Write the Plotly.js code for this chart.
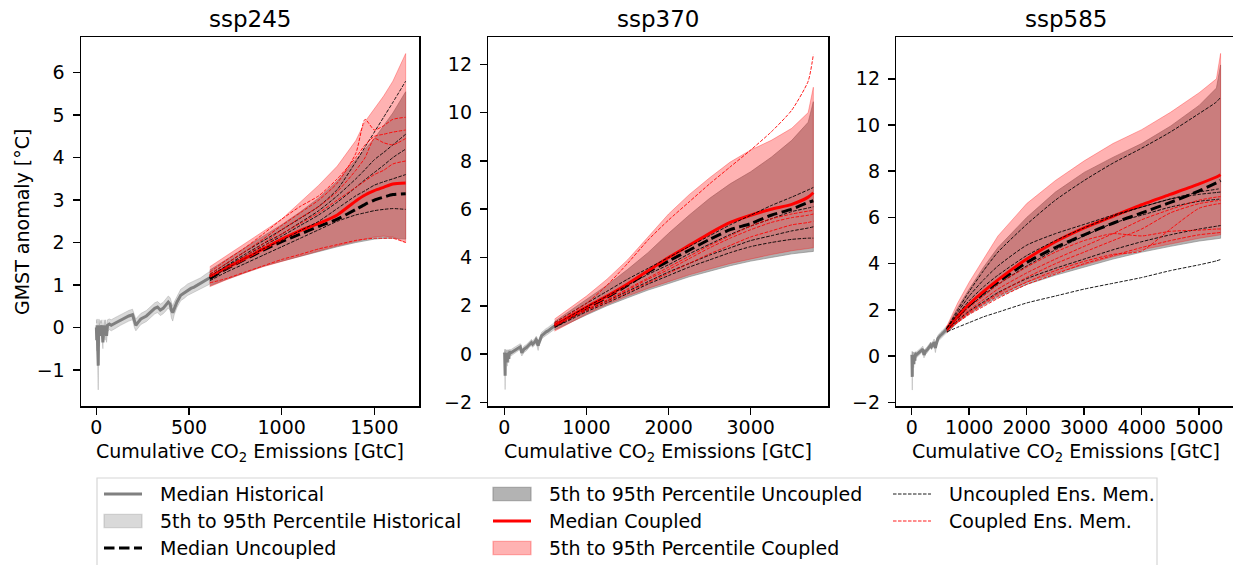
<!DOCTYPE html>
<html>
<head>
<meta charset="utf-8">
<script src="https://cdn.plot.ly/plotly-3.0.1.min.js"></script>
<style>
  html, body { margin: 0; padding: 0; background: #ffffff; }
  #chart { width: 1233px; height: 565px; }
</style>
</head>
<body>
<div id="chart"></div>
<script>
// ---- Historical period (shared by all scenarios) ----
// cumulative CO2 emissions [GtC]
const histX = [0, 2, 4, 6, 8, 10, 12, 14, 17, 20, 25, 30, 35, 38, 42, 47, 50, 55, 60, 70,
  80, 100, 130, 150, 175, 195, 205, 213, 225, 240, 270, 295, 315, 330, 345, 360, 375, 388, 398, 405,
  412, 420, 435, 455, 475, 491, 510, 527, 545, 563, 585, 612];
// GMST anomaly [°C]: median, 5th and 95th percentile
const histMed = [0.0, -0.3, 0.05, -0.5, -0.05, -0.9, -0.1, 0.05, -0.2, 0.02, -0.05, 0.05, -0.35, 0.0, 0.05, -0.15, 0.05, -0.2, 0.05, 0.08,
  0.05, 0.1, 0.17, 0.22, 0.27, 0.3, 0.15, 0.05, 0.12, 0.2, 0.27, 0.37, 0.45, 0.48, 0.41, 0.45, 0.52, 0.6, 0.55, 0.4,
  0.35, 0.45, 0.6, 0.76, 0.82, 0.88, 0.92, 0.95, 1.0, 1.04, 1.1, 1.17];
const histLo = [-0.2, -0.55, -0.15, -0.75, -0.3, -1.47, -0.4, -0.12, -0.45, -0.12, -0.2, -0.1, -0.5, -0.15, -0.1, -0.3, -0.1, -0.35, -0.1, -0.05,
  -0.08, -0.03, 0.05, 0.1, 0.15, 0.18, 0.0, -0.08, -0.02, 0.07, 0.14, 0.24, 0.32, 0.35, 0.28, 0.32, 0.39, 0.46, 0.4, 0.22,
  0.15, 0.3, 0.47, 0.63, 0.69, 0.75, 0.79, 0.82, 0.87, 0.91, 0.96, 1.02];
const histHi = [0.18, 0.1, 0.2, 0.0, 0.15, -0.4, 0.12, 0.2, 0.05, 0.17, 0.1, 0.18, -0.1, 0.13, 0.18, 0.05, 0.18, 0.0, 0.18, 0.2,
  0.18, 0.23, 0.3, 0.35, 0.4, 0.43, 0.3, 0.2, 0.26, 0.33, 0.4, 0.5, 0.58, 0.61, 0.55, 0.59, 0.66, 0.74, 0.7, 0.56,
  0.5, 0.6, 0.74, 0.9, 0.96, 1.02, 1.06, 1.09, 1.13, 1.17, 1.24, 1.32];

// ---- ssp245 ----
const x245 = [612, 700, 800, 900, 1000, 1100, 1200, 1300, 1400, 1450, 1500, 1550, 1600, 1669];
const coupledHi245 = [1.43, 1.68, 1.97, 2.25, 2.55, 2.95, 3.35, 3.8, 4.4, 4.85, 5.15, 5.45, 5.8, 6.45];
const coupledLo245 = [0.96, 1.12, 1.28, 1.43, 1.55, 1.68, 1.8, 1.92, 2.03, 2.08, 2.13, 2.15, 2.13, 2.0];
const uncoupledHi245 = [1.35, 1.6, 1.88, 2.15, 2.42, 2.72, 3.05, 3.45, 3.95, 4.2, 4.45, 4.75, 5.05, 5.55];
const uncoupledLo245 = [0.98, 1.13, 1.29, 1.44, 1.56, 1.68, 1.79, 1.9, 2.0, 2.04, 2.08, 2.1, 2.1, 2.08];
const coupledMed245 = [1.2, 1.4, 1.62, 1.85, 2.08, 2.28, 2.45, 2.65, 2.98, 3.12, 3.22, 3.3, 3.38, 3.4];
const uncoupledMed245 = [1.15, 1.38, 1.6, 1.82, 2.02, 2.2, 2.38, 2.55, 2.78, 2.9, 3.0, 3.07, 3.13, 3.15];
const uncoupledEns245 = [
  [1.25, 1.5, 1.78, 2.04, 2.3, 2.57, 2.85, 3.25, 3.9, 4.25, 4.6, 4.95, 5.3, 5.8],
  [1.2, 1.45, 1.72, 1.97, 2.2, 2.47, 2.75, 3.1, 3.5, 3.72, 3.95, 4.12, 4.3, 4.55],
  [1.2, 1.43, 1.68, 1.92, 2.15, 2.4, 2.65, 2.95, 3.3, 3.48, 3.65, 3.82, 4.0, 4.2],
  [1.15, 1.38, 1.62, 1.85, 2.05, 2.28, 2.5, 2.8, 3.1, 3.22, 3.35, 3.43, 3.5, 3.6],
  [1.1, 1.3, 1.5, 1.7, 1.9, 2.1, 2.3, 2.5, 2.65, 2.7, 2.75, 2.78, 2.8, 2.78]
];
const coupledEns245 = [
  [1.25, 1.5, 1.78, 2.08, 2.4, 2.7, 3.0, 3.4, 4.1, 4.9, 4.65, 4.75, 4.9, 4.95],
  [1.3, 1.58, 1.87, 2.2, 2.55, 2.85, 3.1, 3.5, 4.0, 4.3, 4.5, 4.55, 4.6, 4.65],
  [1.2, 1.42, 1.67, 1.97, 2.3, 2.58, 2.85, 3.2, 3.7, 4.0, 4.45, 4.35, 4.3, 4.45],
  [1.2, 1.4, 1.62, 1.9, 2.2, 2.45, 2.7, 3.0, 3.3, 3.45, 3.6, 3.7, 3.85, 3.92],
  [1.05, 1.15, 1.3, 1.45, 1.6, 1.72, 1.85, 1.95, 2.05, 2.08, 2.1, 2.1, 2.1, 2.0]
];

// ---- ssp370 ----
const x370 = [612, 1000, 1250, 1500, 1750, 2000, 2250, 2500, 2750, 3000, 3250, 3500, 3700, 3763];
const coupledHi370 = [1.45, 2.4, 3.1, 3.9, 4.85, 5.8, 6.6, 7.3, 7.95, 8.45, 8.85, 9.35, 10.0, 11.05];
const coupledLo370 = [0.95, 1.65, 2.05, 2.4, 2.72, 3.0, 3.28, 3.52, 3.75, 3.95, 4.12, 4.28, 4.37, 4.4];
const uncoupledHi370 = [1.35, 2.25, 2.85, 3.5, 4.2, 5.0, 5.75, 6.45, 7.05, 7.55, 8.15, 8.85, 9.6, 10.45];
const uncoupledLo370 = [1.0, 1.62, 2.0, 2.33, 2.65, 2.92, 3.2, 3.44, 3.66, 3.85, 4.0, 4.15, 4.23, 4.25];
const coupledMed370 = [1.2, 1.95, 2.4, 2.9, 3.45, 4.0, 4.5, 5.0, 5.45, 5.75, 6.0, 6.2, 6.5, 6.68];
const uncoupledMed370 = [1.15, 1.9, 2.35, 2.85, 3.4, 3.85, 4.3, 4.75, 5.15, 5.4, 5.75, 6.0, 6.28, 6.35];
const uncoupledEns370 = [
  [1.3, 2.1, 2.6, 3.1, 3.55, 4.0, 4.45, 4.9, 5.35, 5.75, 6.15, 6.5, 6.8, 6.9],
  [1.2, 1.95, 2.4, 2.85, 3.3, 3.7, 4.15, 4.55, 4.95, 5.3, 5.6, 5.9, 6.05, 6.1],
  [1.15, 1.8, 2.2, 2.6, 3.0, 3.4, 3.75, 4.1, 4.4, 4.7, 4.9, 5.1, 5.22, 5.27],
  [1.1, 1.75, 2.12, 2.5, 2.9, 3.25, 3.6, 3.9, 4.2, 4.45, 4.62, 4.75, 4.8, 4.8]
];
const coupledEns370 = [
  [1.3, 2.1, 2.85, 3.75, 4.72, 5.55, 6.3, 7.05, 7.75, 8.45, 9.2, 10.1, 11.3, 12.4],
  [1.2, 1.85, 2.25, 2.7, 3.15, 3.6, 4.05, 4.5, 4.9, 5.3, 5.6, 5.8, 5.92, 5.95],
  [1.2, 1.85, 2.22, 2.65, 3.1, 3.5, 3.95, 4.4, 4.8, 5.15, 5.45, 5.65, 5.75, 5.8],
  [1.15, 1.8, 2.15, 2.55, 2.95, 3.35, 3.75, 4.15, 4.5, 4.85, 5.1, 5.35, 5.45, 5.5]
];

// ---- ssp585 ----
const x585 = [612, 800, 1000, 1250, 1500, 2000, 2500, 3000, 3500, 4000, 4500, 5000, 5300, 5372];
const coupledHi585 = [1.3, 2.3, 3.2, 4.2, 5.2, 6.6, 7.6, 8.45, 9.2, 9.8, 10.55, 11.4, 12.0, 13.1];
const coupledLo585 = [1.0, 1.5, 1.9, 2.3, 2.65, 3.2, 3.6, 3.95, 4.3, 4.6, 4.85, 5.1, 5.22, 5.25];
const uncoupledHi585 = [1.25, 2.1, 2.9, 3.85, 4.7, 6.0, 7.1, 7.95, 8.6, 9.2, 9.95, 10.85, 11.6, 12.6];
const uncoupledLo585 = [1.0, 1.45, 1.82, 2.2, 2.55, 3.1, 3.5, 3.85, 4.2, 4.5, 4.75, 4.98, 5.08, 5.1];
const coupledMed585 = [1.2, 1.75, 2.25, 2.8, 3.3, 4.2, 4.95, 5.55, 6.05, 6.55, 7.0, 7.45, 7.75, 7.85];
const uncoupledMed585 = [1.15, 1.7, 2.2, 2.75, 3.2, 4.05, 4.7, 5.25, 5.75, 6.2, 6.65, 7.15, 7.5, 7.6];
const uncoupledEns585 = [
  [1.2, 2.0, 2.8, 3.7, 4.5, 5.7, 6.75, 7.6, 8.35, 9.0, 9.7, 10.5, 11.0, 11.2],
  [1.2, 1.9, 2.6, 3.3, 3.9, 4.8, 5.3, 5.7, 6.1, 6.45, 6.8, 7.0, 7.08, 7.1],
  [1.2, 1.8, 2.4, 3.0, 3.5, 4.35, 5.0, 5.55, 6.05, 6.45, 6.8, 7.1, 7.22, 7.25],
  [1.15, 1.65, 2.15, 2.65, 3.1, 3.9, 4.6, 5.2, 5.75, 6.1, 6.45, 6.7, 6.78, 6.8],
  [1.1, 1.55, 1.95, 2.35, 2.75, 3.35, 3.8, 4.2, 4.6, 4.95, 5.25, 5.5, 5.62, 5.65],
  [1.05, 1.25, 1.45, 1.7, 1.9, 2.3, 2.6, 2.9, 3.15, 3.4, 3.7, 3.95, 4.12, 4.18]
];
const coupledEns585 = [
  [1.15, 1.6, 2.0, 2.45, 2.9, 3.6, 4.2, 4.75, 5.3, 5.9, 6.35, 6.75, 6.88, 6.9],
  [1.1, 1.5, 1.9, 2.3, 2.7, 3.4, 4.0, 4.5, 5.0, 5.5, 6.2, 6.6, 6.72, 6.75],
  [1.1, 1.5, 1.85, 2.25, 2.6, 3.2, 3.7, 4.1, 4.4, 4.55, 5.5, 6.4, 6.58, 6.6],
  [1.15, 1.65, 2.1, 2.6, 3.1, 3.85, 4.5, 5.0, 5.3, 5.2, 5.4, 5.45, 5.5, 5.5],
  [1.1, 1.45, 1.8, 2.15, 2.5, 3.1, 3.55, 4.0, 4.35, 4.7, 5.0, 5.25, 5.33, 5.35]
];

const scenarioNames = ['ssp245', 'ssp370', 'ssp585'];
const xTicks = [[0, 500, 1000, 1500], [0, 1000, 2000, 3000], [0, 1000, 2000, 3000, 4000, 5000]];
const yTicks = [[-1, 0, 1, 2, 3, 4, 5, 6], [-2, 0, 2, 4, 6, 8, 10, 12], [-2, 0, 2, 4, 6, 8, 10, 12]];

const scenarios = [
  { x: x245, cHi: coupledHi245, cLo: coupledLo245, uHi: uncoupledHi245, uLo: uncoupledLo245,
    cMed: coupledMed245, uMed: uncoupledMed245, uEns: uncoupledEns245, cEns: coupledEns245 },
  { x: x370, cHi: coupledHi370, cLo: coupledLo370, uHi: uncoupledHi370, uLo: uncoupledLo370,
    cMed: coupledMed370, uMed: uncoupledMed370, uEns: uncoupledEns370, cEns: coupledEns370 },
  { x: x585, cHi: coupledHi585, cLo: coupledLo585, uHi: uncoupledHi585, uLo: uncoupledLo585,
    cMed: coupledMed585, uMed: uncoupledMed585, uEns: uncoupledEns585, cEns: coupledEns585 }
];

// ---- styling ----
const W = 1233, H = 565;
const px = v => v / W;            // pixel column -> paper x
const py = v => 1 - v / H;        // pixel row -> paper y
const FONT = 'DejaVu Sans, Verdana, sans-serif';
const HIST_FILL = 'rgba(128,128,128,0.3)';
const UNC_FILL = 'rgba(128,128,128,0.6)';
const CPL_FILL = 'rgba(255,0,0,0.3)';
const STYLE = {
  histMed: { color: '#808080', width: 3 },
  uMed: { color: '#000000', width: 3, dash: '10.5px,4.5px' },
  cMed: { color: '#ff0000', width: 3 },
  uEns: { color: '#000000', width: 0.9, dash: '3.5px,1.5px' },
  cEns: { color: '#ff0000', width: 0.9, dash: '3.5px,1.5px' }
};

// panel boxes in pixels: [left, right] and axis ranges
const panelX = [[81, 419], [488.3, 828.3], [896.3, 1233]];
const xRanges = [[-83, 1741], [-195, 3945], [-268, 5588]];
const yRanges = [[-1.85, 6.84], [-2.15, 13.13], [-2.16, 13.81]];
const plotTop = 37, plotBottom = 406;

function band(x, lo, hi, color, xa, ya) {
  return {
    type: 'scatter', mode: 'lines', xaxis: xa, yaxis: ya,
    x: x.concat(x.slice().reverse()),
    y: hi.concat(lo.slice().reverse()),
    fill: 'toself', fillcolor: color,
    line: { color: color, width: 1 },
    hoverinfo: 'skip', showlegend: false
  };
}
function curve(x, y, style, xa, ya, smooth) {
  return {
    type: 'scatter', mode: 'lines', xaxis: xa, yaxis: ya, x: x, y: y,
    line: Object.assign({ shape: smooth ? 'spline' : 'linear', smoothing: 0.6 }, style),
    hoverinfo: 'skip', showlegend: false
  };
}

const traces = [];
scenarios.forEach((s, k) => {
  const xa = k === 0 ? 'x' : 'x' + (k + 1);
  const ya = k === 0 ? 'y' : 'y' + (k + 1);
  traces.push(band(histX, histLo, histHi, HIST_FILL, xa, ya));
  traces.push(band(s.x, s.uLo, s.uHi, UNC_FILL, xa, ya));
  traces.push(band(s.x, s.cLo, s.cHi, CPL_FILL, xa, ya));
  traces.push(curve(histX, histMed, STYLE.histMed, xa, ya, false));
  traces.push(curve(s.x, s.uMed, STYLE.uMed, xa, ya, true));
  traces.push(curve(s.x, s.cMed, STYLE.cMed, xa, ya, true));
  s.uEns.forEach(m => traces.push(curve(s.x, m, STYLE.uEns, xa, ya, true)));
  s.cEns.forEach(m => traces.push(curve(s.x, m, STYLE.cEns, xa, ya, true)));
});

const axisCommon = {
  showline: true, linecolor: '#000000', linewidth: 1.5, mirror: true,
  ticks: 'outside', ticklen: 7, tickwidth: 1.5, tickcolor: '#000000',
  showgrid: false, zeroline: false, fixedrange: true,
  tickfont: { family: FONT, size: 19, color: '#000000' }
};

const layout = {
  width: W, height: H,
  margin: { l: 0, r: 0, t: 0, b: 0, pad: 0 },
  paper_bgcolor: '#ffffff', plot_bgcolor: '#ffffff',
  showlegend: false,
  font: { family: FONT, size: 19, color: '#000000' },
  annotations: [], shapes: []
};

scenarioNames.forEach((name, k) => {
  const xk = k === 0 ? 'xaxis' : 'xaxis' + (k + 1);
  const yk = k === 0 ? 'yaxis' : 'yaxis' + (k + 1);
  const xa = k === 0 ? 'x' : 'x' + (k + 1);
  const ya = k === 0 ? 'y' : 'y' + (k + 1);
  layout[xk] = Object.assign({}, axisCommon, {
    domain: [px(panelX[k][0]), Math.min(1, px(panelX[k][1]))],
    range: xRanges[k], tickvals: xTicks[k], anchor: ya,
    ticklabelstandoff: -3
  });
  layout[yk] = Object.assign({}, axisCommon, {
    domain: [py(plotBottom), py(plotTop)],
    range: yRanges[k], tickvals: yTicks[k], anchor: xa,
    ticklabelstandoff: 4
  });
  const cx = (panelX[k][0] + (k === 2 ? 1236.3 : panelX[k][1])) / 2;
  layout.annotations.push({
    xref: 'paper', yref: 'paper', x: px(cx), y: py(19), xanchor: 'center', yanchor: 'middle',
    text: name, showarrow: false, font: { family: FONT, size: 23, color: '#000000' }
  });
  layout.annotations.push({
    xref: 'paper', yref: 'paper', x: px(cx), y: py(452), xanchor: 'center', yanchor: 'middle',
    text: 'Cumulative CO<sub>2</sub> Emissions [GtC]', showarrow: false,
    font: { family: FONT, size: 19, color: '#000000' }
  });
});

layout.annotations.push({
  xref: 'paper', yref: 'paper', x: px(22), y: py(222), xanchor: 'center', yanchor: 'middle',
  text: 'GMST anomaly [°C]', textangle: -90, showarrow: false,
  font: { family: FONT, size: 19, color: '#000000' }
});

// ---- legend (three columns) ----
layout.shapes.push({
  type: 'rect', xref: 'paper', yref: 'paper', layer: 'above',
  x0: px(97), x1: px(1157), y0: py(580), y1: py(478),
  line: { color: '#d6d6d6', width: 1.2 }, fillcolor: 'rgba(255,255,255,0.8)'
});
const legendItems = [
  { label: 'Median Historical', kind: 'line', style: STYLE.histMed, col: 0, row: 0 },
  { label: '5th to 95th Percentile Historical', kind: 'patch', fill: HIST_FILL, col: 0, row: 1 },
  { label: 'Median Uncoupled', kind: 'line', style: STYLE.uMed, col: 0, row: 2 },
  { label: '5th to 95th Percentile Uncoupled', kind: 'patch', fill: UNC_FILL, col: 1, row: 0 },
  { label: 'Median Coupled', kind: 'line', style: STYLE.cMed, col: 1, row: 1 },
  { label: '5th to 95th Percentile Coupled', kind: 'patch', fill: CPL_FILL, col: 1, row: 2 },
  { label: 'Uncoupled Ens. Mem.', kind: 'line', style: STYLE.uEns, col: 2, row: 0 },
  { label: 'Coupled Ens. Mem.', kind: 'line', style: STYLE.cEns, col: 2, row: 1 }
];
const colHandle = [104, 493, 893];
const colText = [158, 547, 947];
const rowY = [494, 521, 548];
legendItems.forEach(it => {
  const x0 = colHandle[it.col], x1 = x0 + 38, y = rowY[it.row];
  if (it.kind === 'line') {
    layout.shapes.push({
      type: 'line', xref: 'paper', yref: 'paper', layer: 'above',
      x0: px(x0), x1: px(x1), y0: py(y), y1: py(y),
      line: { color: it.style.color, width: it.style.width, dash: it.style.dash || 'solid' }
    });
  } else {
    layout.shapes.push({
      type: 'rect', xref: 'paper', yref: 'paper', layer: 'above',
      x0: px(x0), x1: px(x1), y0: py(y + 6.6), y1: py(y - 6.6),
      line: { color: it.fill, width: 1.2 }, fillcolor: it.fill
    });
  }
  layout.annotations.push({
    xref: 'paper', yref: 'paper', x: px(colText[it.col]), y: py(y), xanchor: 'left', yanchor: 'middle',
    text: it.label, showarrow: false, font: { family: FONT, size: 19, color: '#000000' }
  });
});

Plotly.newPlot('chart', traces, layout, { staticPlot: true, displayModeBar: false });
</script>
</body>
</html>
